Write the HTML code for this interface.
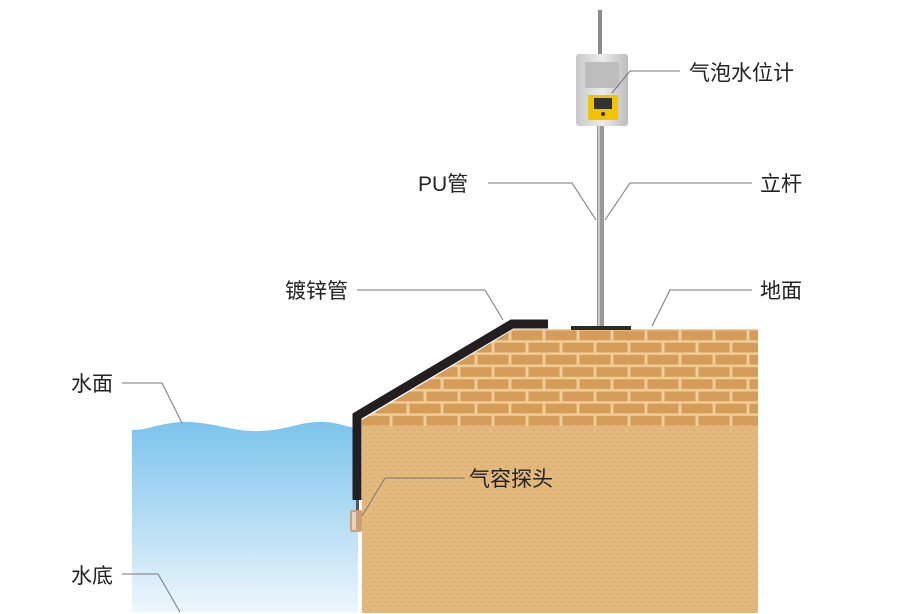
<!DOCTYPE html>
<html><head><meta charset="utf-8"><style>
html,body{margin:0;padding:0;background:#fff;}
svg{display:block;}
text{font-family:"Liberation Sans","Noto Sans CJK SC",sans-serif;font-size:21px;fill:#222;}
</style></head><body>
<svg width="900" height="614" viewBox="0 0 900 614" xmlns="http://www.w3.org/2000/svg">
<defs>
<linearGradient id="w" x1="0" y1="0" x2="0" y2="1">
<stop offset="0" stop-color="#7cc4ec"/><stop offset="0.5" stop-color="#b3dcf4"/><stop offset="1" stop-color="#eef6fc"/>
</linearGradient>
<pattern id="br" x="0" y="329" width="68" height="24.4" patternUnits="userSpaceOnUse">
<rect width="68" height="24.4" fill="#efcd96"/>
<rect x="1.5" y="1.5" width="31" height="9.7" fill="#d49c58"/>
<rect x="35.5" y="1.5" width="31" height="9.7" fill="#d49c58"/>
<rect x="-15.5" y="13.7" width="31" height="9.7" fill="#d49c58"/>
<rect x="18.5" y="13.7" width="31" height="9.7" fill="#d49c58"/>
<rect x="52.5" y="13.7" width="31" height="9.7" fill="#d49c58"/>
</pattern>
<pattern id="sd" width="8" height="8" patternUnits="userSpaceOnUse">
<rect width="8" height="8" fill="#e3b87c"/>
<circle cx="2" cy="2" r="1" fill="#d9aa6c"/><circle cx="6" cy="6" r="1" fill="#d9aa6c"/>
</pattern>
<linearGradient id="box" x1="0" x2="1"><stop offset="0" stop-color="#c8c8c8"/><stop offset="0.5" stop-color="#ececec"/><stop offset="1" stop-color="#bdbdbd"/></linearGradient>
</defs>
<path d="M132 430 C150 430 165 421 190 422 C220 424 235 432 260 431 C290 430 300 421 325 422 C340 423 350 428 358 428 L358 612 L132 612 Z" fill="url(#w)"/>
<path d="M362 420 L514 329 L758 329 L758 426 L362 426 Z" fill="url(#br)"/>
<rect x="362" y="426" width="396" height="187" fill="url(#sd)"/>
<polyline points="548,324 512,324 357,416 357,500" fill="none" stroke="#231f20" stroke-width="9" stroke-linejoin="miter"/>
<rect x="356" y="500" width="3" height="10" fill="#555"/>
<rect x="350" y="510" width="12" height="22" rx="2" fill="#c9a07a"/>
<rect x="352" y="512" width="4" height="18" fill="#e8d2bb"/>
<rect x="598" y="10" width="4" height="50" fill="#8a8a8a"/>
<rect x="597" y="125" width="7" height="204" fill="#9a9a9a"/>
<rect x="598" y="125" width="2" height="204" fill="#c8c8c8"/>
<rect x="571" y="326" width="60" height="4" fill="#2a2a2a"/>
<rect x="576" y="54" width="52" height="72" rx="3" fill="url(#box)"/>
<rect x="585" y="62" width="34" height="26" fill="#bdbdbd"/>
<rect x="588" y="95" width="30" height="25" fill="#f2c400"/>
<rect x="594" y="98" width="18" height="11" fill="#333"/>
<circle cx="603" cy="114" r="2" fill="#333"/>
<g fill="none" stroke="#777" stroke-width="1">
<polyline points="612,93 630,71 680,71"/>
<polyline points="488,183 572,183 596,220"/>
<polyline points="752,183 630,183 605,220"/>
<polyline points="357,290 485,290 503,320"/>
<polyline points="752,290 670,290 652,326"/>
<polyline points="122,383 162,383 182,423"/>
<polyline points="465,478 385,478 362,516"/>
<polyline points="122,574 158,574 180,612"/>
</g>
<text x="689" y="80">气泡水位计</text>
<text x="418" y="191">PU管</text>
<text x="760" y="191">立杆</text>
<text x="285" y="298">镀锌管</text>
<text x="760" y="298">地面</text>
<text x="71" y="391">水面</text>
<text x="469" y="486">气容探头</text>
<text x="71" y="583">水底</text>
</svg>
</body></html>
